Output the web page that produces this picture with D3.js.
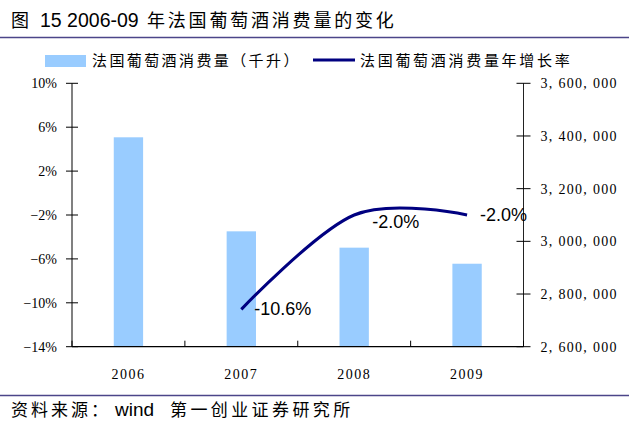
<!DOCTYPE html>
<html>
<head>
<meta charset="utf-8">
<script src="https://cdn.jsdelivr.net/npm/d3@7"></script>
<style>
    body { margin: 0; background: #fff; }
    svg { display: block; }
</style>
</head>
<body>
<script>
// Data
var years = ["2006", "2007", "2008", "2009"];
var consumption = [3395000, 3038000, 2976000, 2915000];   // 千升
var growthYears = ["2007", "2008", "2009"];
var growth = [-10.6, -2.0, -2.0];                          // %
var growthLabels = ["-10.6%", "-2.0%", "-2.0%"];
var leftTicks = [-14, -10, -6, -2, 2, 6, 10];
var rightTicks = [2600000, 2800000, 3000000, 3200000, 3400000, 3600000];

var W = 629, H = 426;
var plot = { left: 72, right: 523.5, top: 83.3, bottom: 346.7 };
var cjk = "'Noto Sans CJK SC', sans-serif";
var sans = "'Liberation Sans', Arial, sans-serif";
var serif = "'Liberation Serif', 'Times New Roman', serif";

var verbatim = function(d) { return d; };

var svg = d3.select("body")
    .append("svg")
    .attr("width", W)
    .attr("height", H);

var x = d3.scaleBand()
    .domain(years)
    .range([plot.left, plot.right])
    .paddingInner(0.74)
    .paddingOuter(0.37);

var xCenter = function(d) { return x(d) + x.bandwidth() / 2; };

var yLeft = d3.scaleLinear().domain([-14, 10]).range([plot.bottom, plot.top]);
var yRight = d3.scaleLinear().domain([2600000, 3600000]).range([plot.bottom, plot.top]);

function fmtRight(v) {
    return d3.format(",")(v).replace(/,/g, ", ");
}

function fmtLeft(v) {
    return (v < 0 ? "\u2212" + Math.abs(v) : v) + "%";
}


// Title and footer
function drawTexts() {
    svg.append("text")
        .attr("x", 11).attr("y", 27)
        .style("font-family", cjk).style("font-size", "18px")
        .text("图");
    svg.append("text")
        .attr("x", 40).attr("y", 27)
        .style("font-family", sans).style("font-size", "19.5px")
        .text("15 2006-09");
    svg.append("text")
        .attr("x", 147).attr("y", 27)
        .style("font-family", cjk).style("font-size", "18px")
        .style("letter-spacing", "2.8px")
        .text("年法国葡萄酒消费量的变化");

    svg.append("line")
        .attr("x1", 0).attr("x2", W)
        .attr("y1", 37.5).attr("y2", 37.5)
        .attr("stroke", "#4b4589").attr("stroke-width", 1.5);

    svg.append("line")
        .attr("x1", 0).attr("x2", W)
        .attr("y1", 395.5).attr("y2", 395.5)
        .attr("stroke", "#4b4589").attr("stroke-width", 1.5);

    svg.append("text")
        .attr("x", 11).attr("y", 416)
        .style("font-family", cjk).style("font-size", "17px")
        .style("letter-spacing", "3px")
        .text("资料来源：");
    svg.append("text")
        .attr("x", 115).attr("y", 416)
        .style("font-family", sans).style("font-size", "19px")
        .text("wind");
    svg.append("text")
        .attr("x", 170).attr("y", 416)
        .style("font-family", cjk).style("font-size", "17px")
        .style("letter-spacing", "3.4px")
        .text("第一创业证券研究所");
}


function drawLegend() {
    svg.append("rect")
        .attr("x", 45).attr("y", 55)
        .attr("width", 41).attr("height", 12)
        .attr("fill", "#99ccff");
    svg.append("text")
        .attr("x", 92).attr("y", 66)
        .style("font-family", cjk).style("font-size", "15px")
        .style("letter-spacing", "2.4px")
        .text("法国葡萄酒消费量（千升）");

    svg.append("line")
        .attr("x1", 313).attr("x2", 355)
        .attr("y1", 60).attr("y2", 60)
        .attr("stroke", "#000080").attr("stroke-width", 3);
    svg.append("text")
        .attr("x", 360).attr("y", 66)
        .style("font-family", cjk).style("font-size", "15px")
        .style("letter-spacing", "2.7px")
        .text("法国葡萄酒消费量年增长率");
}


function drawBars() {
    svg.selectAll(".bar")
        .data(consumption)
        .enter()
        .append("rect")
        .attr("class", "bar")
        .attr("x", function(d, i) { return x(years[i]); })
        .attr("width", x.bandwidth())
        .attr("y", function(d) { return yRight(d); })
        .attr("height", function(d) { return plot.bottom - yRight(d); })
        .attr("fill", "#99ccff");
}


function drawAxes() {
    // left
    svg.append("line")
        .attr("x1", plot.left).attr("x2", plot.left)
        .attr("y1", plot.top).attr("y2", plot.bottom)
        .attr("stroke", "#808080").attr("stroke-width", 2);
    svg.selectAll(".ltick")
        .data(leftTicks)
        .enter()
        .append("line")
        .attr("class", "ltick")
        .attr("x1", plot.left - 6).attr("x2", plot.left + 6)
        .attr("y1", function(d) { return yLeft(d); })
        .attr("y2", function(d) { return yLeft(d); })
        .attr("stroke", "#000").attr("stroke-width", 1);
    svg.selectAll(".llabel")
        .data(leftTicks)
        .enter()
        .append("text")
        .attr("class", "llabel")
        .attr("x", plot.left - 15)
        .attr("y", function(d) { return yLeft(d) + 5; })
        .attr("text-anchor", "end")
        .style("font-family", serif).style("font-size", "14px")
        .text(fmtLeft);

    // right
    svg.append("line")
        .attr("x1", plot.right).attr("x2", plot.right)
        .attr("y1", plot.top).attr("y2", plot.bottom)
        .attr("stroke", "#222").attr("stroke-width", 1);
    svg.selectAll(".rtick")
        .data(rightTicks)
        .enter()
        .append("line")
        .attr("class", "rtick")
        .attr("x1", plot.right - 7).attr("x2", plot.right + 7)
        .attr("y1", function(d) { return yRight(d); })
        .attr("y2", function(d) { return yRight(d); })
        .attr("stroke", "#000").attr("stroke-width", 1);
    svg.selectAll(".rlabel")
        .data(rightTicks)
        .enter()
        .append("text")
        .attr("class", "rlabel")
        .attr("x", plot.right + 17)
        .attr("y", function(d) { return yRight(d) + 5; })
        .style("font-family", serif).style("font-size", "14px")
        .style("letter-spacing", "1.3px")
        .text(fmtRight);

    // bottom
    svg.append("line")
        .attr("x1", plot.left).attr("x2", plot.right)
        .attr("y1", plot.bottom).attr("y2", plot.bottom)
        .attr("stroke", "#000").attr("stroke-width", 1.2);
    var bounds = years.map(function(d) { return x(d) - x.step() * x.paddingOuter(); });
    bounds.push(plot.right);
    svg.selectAll(".xtick")
        .data(bounds)
        .enter()
        .append("line")
        .attr("class", "xtick")
        .attr("x1", verbatim).attr("x2", verbatim)
        .attr("y1", plot.bottom - 6).attr("y2", plot.bottom)
        .attr("stroke", "#000").attr("stroke-width", 1);
    svg.selectAll(".xlabel")
        .data(years)
        .enter()
        .append("text")
        .attr("class", "xlabel")
        .attr("x", xCenter)
        .attr("y", 379)
        .attr("text-anchor", "middle")
        .style("font-family", serif).style("font-size", "14px")
        .style("letter-spacing", "1.5px")
        .text(verbatim);
}


function drawGrowth() {
    var line = d3.line()
        .x(function(d, i) { return xCenter(growthYears[i]); })
        .y(function(d) { return yLeft(d); })
        .curve(d3.curveCardinal);

    svg.append("path")
        .datum(growth)
        .attr("d", line)
        .attr("fill", "none")
        .attr("stroke", "#000080")
        .attr("stroke-width", 3);

    // label offsets (2008 label sits under the curve in the original)
    var dx = [13, 18, 13], dy = [6, 13, 6];
    svg.selectAll(".glabel")
        .data(growth)
        .enter()
        .append("text")
        .attr("class", "glabel")
        .attr("x", function(d, i) { return xCenter(growthYears[i]) + dx[i]; })
        .attr("y", function(d, i) { return yLeft(d) + dy[i]; })
        .style("font-family", sans).style("font-size", "18px")
        .text(function(d, i) { return growthLabels[i]; });
}


drawTexts();
drawLegend();
drawBars();
drawAxes();
drawGrowth();
</script>
</body>
</html>
